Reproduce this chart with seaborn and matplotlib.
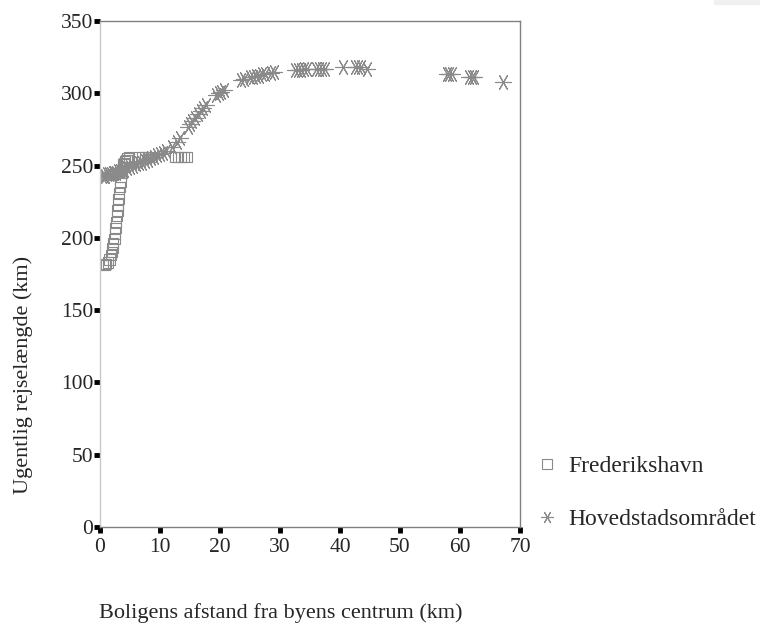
import matplotlib
matplotlib.use("Agg")
import matplotlib.pyplot as plt
from matplotlib.lines import Line2D
import seaborn as sns
import pandas as pd

# Frederikshavn (open squares)
fh_dist = [0.5, 0.8, 1.0, 1.3, 1.6, 1.8, 2.0, 2.1, 2.2, 2.4, 2.5, 2.6, 2.7, 2.8,
           2.9, 3.0, 3.1, 3.2, 3.3, 3.4, 3.5, 3.6, 3.7, 3.8, 3.9, 4.0, 4.2, 4.4,
           4.6, 4.8, 6.5, 7.0, 7.5, 8.0, 8.5, 12.5, 13.0, 13.5, 14.0, 14.5]
fh_len = [181, 181, 182, 183, 185, 188, 190, 193, 196, 199, 203, 207, 211, 215,
          219, 223, 227, 231, 235, 239, 242, 245, 247, 249, 251, 252, 253, 254,
          255, 256, 256, 256, 256, 256, 256, 256, 256, 256, 256, 256]

# Hovedstadsomraadet (asterisks)
hs_dist = [0.3, 0.6, 0.9, 1.2, 1.5, 1.8, 2.1, 2.4, 2.7, 3.0, 3.3, 3.6, 4.0, 4.5,
           5.0, 5.5, 6.0, 6.5, 7.0, 7.5, 8.0, 8.5, 9.0, 9.5, 10.0, 10.5, 11.0,
           12.0, 12.8, 13.4, 14.6, 15.0, 15.4, 15.8, 16.4, 16.8, 17.2, 17.6,
           19.4, 19.8, 20.2, 20.6, 23.5, 24.0, 25.0, 25.5, 26.0, 26.5, 27.0,
           27.5, 28.5, 29.0, 32.5, 33.0, 33.5, 34.0, 34.5, 36.0, 36.5, 37.0,
           37.5, 40.5, 42.5, 43.0, 43.5, 44.5, 57.8, 58.2, 58.6, 61.5, 62.0,
           62.4, 67.2]
hs_len = [243, 243, 243, 244, 244, 244, 245, 245, 245, 246, 246, 247, 247, 248,
          249, 250, 251, 252, 252, 253, 254, 255, 256, 257, 258, 259, 260,
          263, 266, 269, 277, 279, 281, 283, 286, 288, 290, 292,
          299, 300, 301, 302, 309, 310, 311, 311, 312, 312, 313,
          313, 314, 315, 316, 316, 316, 317, 317, 317, 317, 317,
          317, 318, 318, 318, 318, 317, 313, 313, 313, 311, 311,
          311, 308]

x_ticks = [0, 10, 20, 30, 40, 50, 60, 70]
y_ticks = [0, 50, 100, 150, 200, 250, 300, 350]

sns.set_style("white")
plt.rcParams['font.family'] = ['Liberation Serif', 'DejaVu Serif']

fh = pd.DataFrame({'dist': fh_dist, 'len': fh_len})
hs = pd.DataFrame({'dist': hs_dist, 'len': hs_len})

gray = '#8a8a8a'
star = (6, 2, 90)

fig = plt.figure(figsize=(7.6, 6.29), dpi=100)
ax = fig.add_axes([100 / 760, 1 - 527 / 629, 420 / 760, 506 / 629])

sns.scatterplot(data=fh, x='dist', y='len', marker='s', s=55,
                facecolors='none', edgecolors=gray, linewidth=0.8, ax=ax)
sns.scatterplot(data=hs, x='dist', y='len', marker=star, s=130,
                color=gray, linewidth=0.8, ax=ax)

ax.set_xlim(0, 70)
ax.set_ylim(0, 350)
ax.set_xticks(x_ticks)
ax.set_yticks(y_ticks)
ax.tick_params(axis='both', direction='out', length=4, width=3.5,
               color='black', labelsize=15.5, bottom=True, left=True)
ax.tick_params(axis='y', pad=1)
ax.tick_params(axis='x', pad=4)

for side in ['top', 'right', 'bottom']:
    ax.spines[side].set_color('#808080')
    ax.spines[side].set_linewidth(1.0)
ax.spines['left'].set_color('#c8c8c8')
ax.spines['left'].set_linewidth(1.0)

ax.set_xlabel('Boligens afstand fra byens centrum (km)', fontsize=16)
ax.set_ylabel('Ugentlig rejselængde (km)', fontsize=16)
ax.xaxis.set_label_coords(0.43, -0.15)
ax.yaxis.set_label_coords(-0.16, 0.30)

handles = [
    Line2D([], [], linestyle='none', marker='s', markersize=7,
           markerfacecolor='none', markeredgecolor=gray, markeredgewidth=0.8),
    Line2D([], [], linestyle='none', marker=star, markersize=9,
           markeredgecolor=gray, markeredgewidth=0.8),
]
fig.legend(handles, ['Frederikshavn', 'Hovedstadsområdet'],
           loc='center left', bbox_to_anchor=(533 / 760, 1 - 493 / 629),
           frameon=False, fontsize=17, labelspacing=1.32, handletextpad=0.3,
           handlelength=1.2, borderpad=0, borderaxespad=0)

# faint grey strip in the top-right corner of the original
fig.patches.append(plt.Rectangle((714 / 760, 1 - 4 / 629), 46 / 760, 4 / 629,
                                 transform=fig.transFigure, color='#f0f0f0',
                                 zorder=0))

fig.savefig('out.png', dpi=100)
